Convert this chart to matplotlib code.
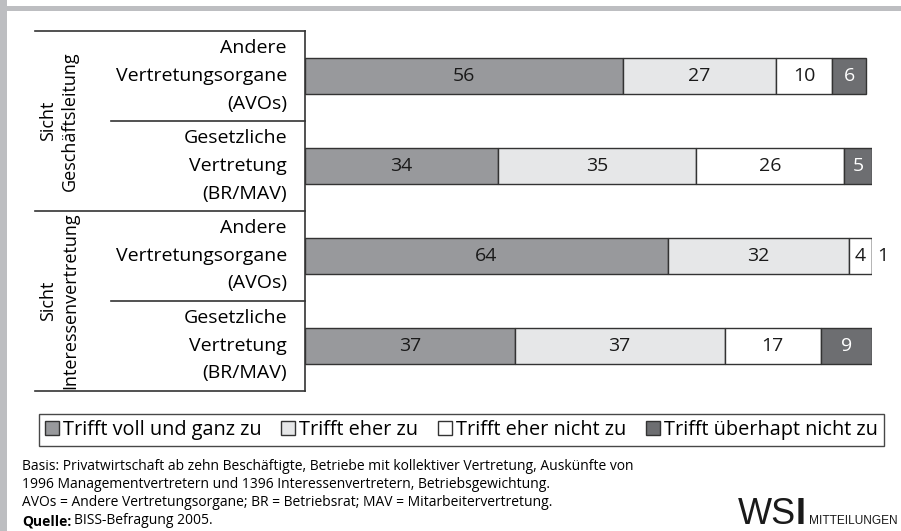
import matplotlib.pyplot as plt
from matplotlib.patches import Patch, Rectangle
from matplotlib.lines import Line2D

plt.rcParams['font.family'] = ['Open Sans', 'DejaVu Sans']

# rows, top to bottom
row_labels = ["Andere\nVertretungsorgane\n(AVOs)", "Gesetzliche\nVertretung\n(BR/MAV)",
              "Andere\nVertretungsorgane\n(AVOs)", "Gesetzliche\nVertretung\n(BR/MAV)"]
group_labels = ["Sicht\nGeschäftsleitung", "Sicht\nInteressenvertretung"]
categories = ["Trifft voll und ganz zu", "Trifft eher zu", "Trifft eher nicht zu", "Trifft überhapt nicht zu"]
voll = [56, 34, 64, 37]
eher = [27, 35, 32, 37]
eher_nicht = [10, 26, 4, 17]
gar_nicht = [6, 5, 1, 9]

colors = ["#98999c", "#e6e7e8", "#ffffff", "#6d6e71"]
text_colors = ["#1a1a1a", "#1a1a1a", "#1a1a1a", "#ffffff"]
edge = "#333333"

W, H = 901, 531
fig = plt.figure(figsize=(W / 100, H / 100), dpi=100)

# grey frame
fig.add_artist(Rectangle((0, 0), 7 / W, 1, transform=fig.transFigure, color="#bdbec1", lw=0))
fig.add_artist(Rectangle((0, 1 - 11 / H), 1, 5 / H, transform=fig.transFigure, color="#bdbec1", lw=0))

ax = fig.add_axes([305 / W, 1 - 390.5 / H, 567 / W, 359.5 / H])
series = [voll, eher, eher_nicht, gar_nicht]
ypos = list(range(len(row_labels)))
left = [0] * len(ypos)
for vals, c, tc in zip(series, colors, text_colors):
    ax.barh(ypos, vals, left=left, height=0.4, color=c, edgecolor=edge, linewidth=1)
    for y, v, l in zip(ypos, vals, left):
        if v >= 3:
            ax.text(l + v / 2, y, str(v), ha="center", va="center", fontsize=14, color=tc)
        else:
            ax.text(l + v - 0.1, y, str(v), ha="left", va="center", fontsize=14, color="#1a1a1a")
    left = [l + v for l, v in zip(left, vals)]

ax.set_xlim(0, 100)
ax.set_ylim(3.5, -0.5)
ax.set_xticks([])
ax.set_yticks([])
for s in ["top", "right", "bottom"]:
    ax.spines[s].set_visible(False)
ax.spines["left"].set_color(edge)
ax.spines["left"].set_linewidth(1.2)

# table lines and labels on the left
tr = ax.get_yaxis_transform()
full_x = (35 - 305) / 567
half_x = (111 - 305) / 567
for y, x0 in [(-0.5, full_x), (0.5, half_x), (1.5, full_x), (2.5, half_x), (3.5, full_x)]:
    ax.add_line(Line2D([x0, 0], [y, y], transform=tr, color=edge, lw=1.2, clip_on=False))

for y, lab in zip(ypos, row_labels):
    ax.text((287 - 305) / 567, y, lab, transform=tr, ha="right", va="center",
            fontsize=14, linespacing=1.7)

for g, lab in enumerate(group_labels):
    ax.text((59 - 305) / 567, 0.5 + 2 * g, lab, transform=tr, ha="center", va="center",
            rotation=90, fontsize=13, linespacing=1.3, multialignment="center")

handles = [Patch(facecolor=c, edgecolor=edge, linewidth=1) for c in colors]
leg = fig.legend(handles, categories, loc="center", bbox_to_anchor=(461.5 / W, 1 - 430 / H),
                 ncol=4, fontsize=14.3, frameon=True, fancybox=False, handlelength=0.7,
                 handleheight=0.7, handletextpad=0.2, columnspacing=1.0, borderpad=0.3,
                 borderaxespad=0)
leg.get_frame().set_edgecolor("#1a1a1a")
leg.get_frame().set_linewidth(1)

notes = ["Basis: Privatwirtschaft ab zehn Beschäftigte, Betriebe mit kollektiver Vertretung, Auskünfte von",
         "1996 Managementvertretern und 1396 Interessenvertretern, Betriebsgewichtung.",
         "AVOs = Andere Vertretungsorgane; BR = Betriebsrat; MAV = Mitarbeitervertretung."]
note_size = 10
for i, t in enumerate(notes):
    fig.text(22 / W, 1 - (466 + 18.5 * i) / H, t, ha="left", va="center", fontsize=note_size)
q = fig.text(22 / W, 1 - 521 / H, "Quelle:", ha="left", va="center", fontsize=note_size,
             weight="bold")
fig.canvas.draw()
bb = q.get_window_extent()
fig.text(bb.x1 / W + 3 / W, 1 - 521 / H, "BISS-Befragung 2005.", ha="left", va="center",
         fontsize=note_size)

# logo
logo_font = ["Liberation Sans", "DejaVu Sans"]
logo = fig.text(738 / W, 1 - 524 / H, "WS", ha="left", va="baseline", fontsize=26, color="#1a1a1a",
                family=logo_font)
fig.canvas.draw()
lb = logo.get_window_extent()
li = fig.text(lb.x1 / W, 1 - 524 / H, "I", ha="left", va="baseline", fontsize=26, color="#1a1a1a",
              weight="bold", family=logo_font)
fig.canvas.draw()
ib = li.get_window_extent()
fig.text(ib.x1 / W + 3 / W, 1 - 524 / H, "MITTEILUNGEN", ha="left", va="baseline", fontsize=8.6,
         color="#1a1a1a", family=logo_font)

fig.savefig("out.png", dpi=100)
